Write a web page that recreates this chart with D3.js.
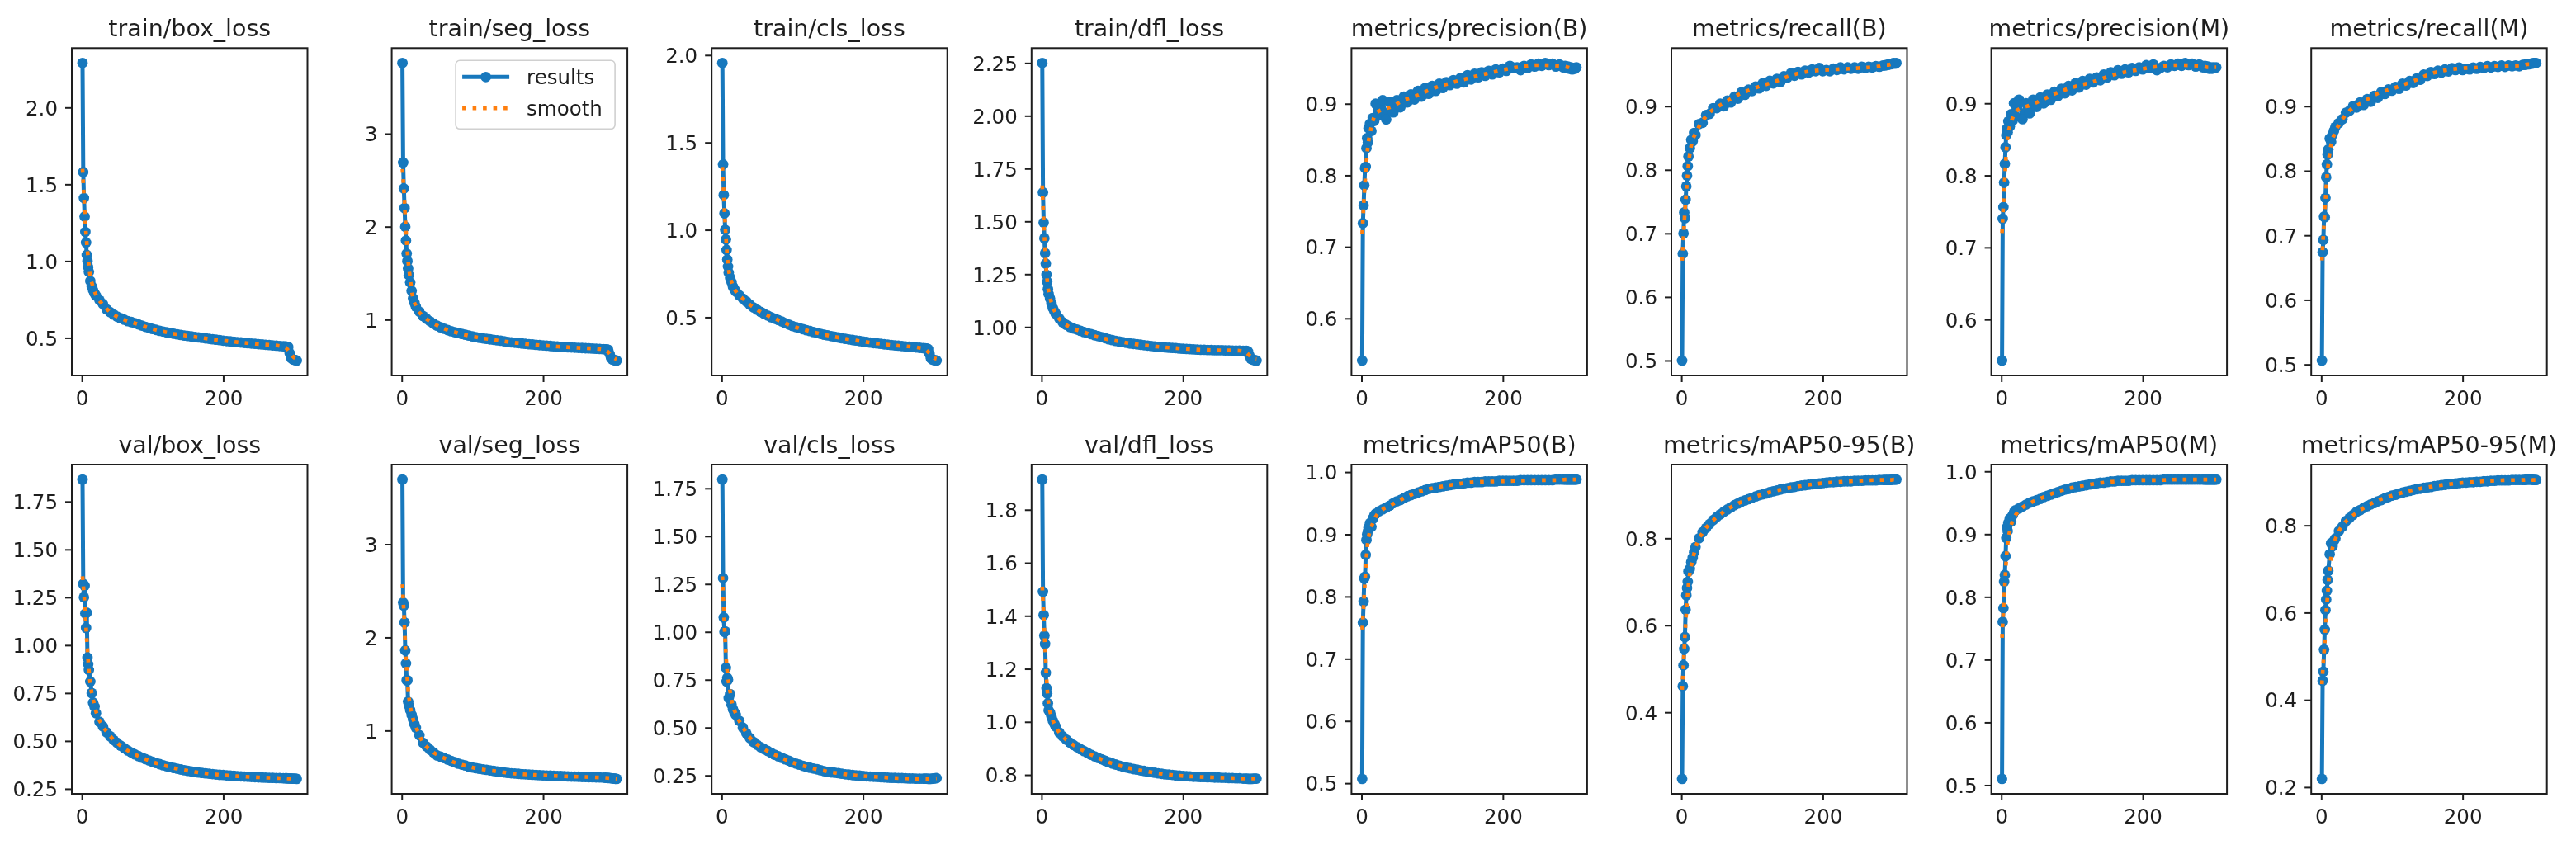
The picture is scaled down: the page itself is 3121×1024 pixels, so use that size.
<!DOCTYPE html>
<html><head><meta charset="utf-8">
<script src="https://cdn.jsdelivr.net/npm/d3@7/dist/d3.min.js"></script>
<style>html,body{margin:0;padding:0;background:#fff}svg{display:block;filter:blur(0.75px)}</style>
</head><body>
<svg id="chart" width="3121" height="1024"></svg>
<script>
// ---------- DATA ----------
const epochs = [1,2,3,4,5,6,7,8,9,10,12,14,16,18,20,25,30,35,40,45,50,55,60,65,70,75,80,85,90,95,100,105,110,115,120,125,130,135,140,145,150,155,160,165,170,175,180,185,190,195,200,205,210,215,220,225,230,235,240,245,250,255,260,265,270,275,280,285,288,290,292,294,296,298,300,302,304];
const smoothEpochs = [1,3,5,7,9,12,15,20,30,40,60,80,100,130,160,190,220,250,280,288,292,296,300,304];

const titles = ["train/box_loss","train/seg_loss","train/cls_loss","train/dfl_loss","metrics/precision(B)","metrics/recall(B)","metrics/precision(M)","metrics/recall(M)",
                "val/box_loss","val/seg_loss","val/cls_loss","val/dfl_loss","metrics/mAP50(B)","metrics/mAP50-95(B)","metrics/mAP50(M)","metrics/mAP50-95(M)"];

const trainBox = [2.29,1.58,1.41,1.29,1.19,1.12,1.04,1.00,0.96,0.93, 0.87,0.835,0.81,0.79,0.775,0.745,0.72,0.686,0.668,0.652, 0.638,0.628,0.618,0.609,0.603,0.596,0.588,0.58,0.572,0.566, 0.558,0.552,0.546,0.541,0.536,0.531,0.527,0.523,0.519,0.515, 0.512,0.509,0.506,0.503,0.5,0.497,0.494,0.491,0.488,0.485, 0.482,0.479,0.477,0.474,0.472,0.47,0.467,0.465,0.463,0.461, 0.459,0.457,0.455,0.453,0.451,0.449,0.447,0.445, 0.444,0.443,0.44,0.40,0.37,0.362,0.358,0.355,0.352];
const trainBoxSmooth = [1.60,1.42,1.25,1.12,1.02,0.90,0.845,0.78,0.715,0.668,0.618,0.588,0.558,0.527,0.506,0.488,0.472,0.459,0.447,0.437,0.418,0.392,0.372,0.362];

const trainSeg = [3.76,2.69,2.41,2.20,2.00,1.85,1.71,1.63,1.55,1.48, 1.40,1.31,1.23,1.18,1.14,1.085,1.04,1.01,0.983,0.957, 0.935,0.918,0.902,0.888,0.876,0.865,0.856,0.847,0.838,0.829, 0.82,0.812,0.805,0.799,0.793,0.788,0.783,0.778,0.773,0.768, 0.76,0.756,0.752,0.748,0.744,0.74,0.736,0.733,0.729,0.726, 0.723,0.72,0.717,0.714,0.711,0.708,0.706,0.703,0.701,0.699, 0.697,0.695,0.693,0.691,0.689,0.687,0.685,0.682, 0.681,0.68,0.676,0.63,0.59,0.572,0.566,0.562,0.56];
const trainSegSmooth = [2.62,2.40,2.10,1.84,1.64,1.44,1.27,1.145,1.04,0.983,0.902,0.856,0.82,0.783,0.752,0.729,0.711,0.697,0.685,0.674,0.652,0.618,0.59,0.575];

const trainCls = [1.955,1.375,1.20,1.095,1.00,0.945,0.885,0.83,0.79,0.755, 0.725,0.70,0.675,0.66,0.647,0.625,0.607,0.59,0.572,0.556, 0.543,0.531,0.52,0.51,0.5,0.492,0.484,0.476,0.466,0.458, 0.45,0.444,0.438,0.432,0.426,0.421,0.415,0.41,0.405,0.40, 0.396,0.392,0.388,0.384,0.38,0.376,0.373,0.37,0.367,0.364, 0.361,0.358,0.355,0.352,0.35,0.348,0.345,0.343,0.341,0.339, 0.337,0.335,0.333,0.331,0.329,0.327,0.325,0.323, 0.322,0.321,0.318,0.29,0.265,0.258,0.255,0.253,0.252];
const trainClsSmooth = [1.36,1.20,1.03,0.90,0.80,0.73,0.69,0.648,0.607,0.572,0.52,0.484,0.45,0.415,0.388,0.367,0.35,0.337,0.325,0.316,0.302,0.283,0.268,0.262];

const trainDfl = [2.25,1.637,1.494,1.42,1.35,1.30,1.247,1.214,1.18,1.156, 1.135,1.11,1.09,1.075,1.063,1.04,1.022,1.01,1.0,0.993, 0.988,0.982,0.976,0.971,0.966,0.961,0.957,0.952,0.947,0.942, 0.938,0.934,0.931,0.928,0.925,0.922,0.92,0.918,0.916,0.914, 0.912,0.91,0.908,0.906,0.905,0.903,0.902,0.901,0.9,0.898, 0.897,0.896,0.895,0.894,0.893,0.892,0.892,0.891,0.891,0.89, 0.89,0.89,0.889,0.889,0.888,0.888,0.888,0.887, 0.887,0.887,0.884,0.865,0.85,0.846,0.844,0.842,0.841];
const trainDflSmooth = [1.67,1.50,1.37,1.26,1.19,1.14,1.105,1.065,1.022,1.0,0.976,0.952,0.938,0.92,0.908,0.9,0.893,0.89,0.888,0.882,0.872,0.86,0.851,0.848];

const precisionB = [0.541,0.733,0.758,0.786,0.81,0.812,0.838,0.852,0.846,0.866, 0.872,0.862,0.88,0.876,0.9,0.884,0.905,0.878,0.902,0.888, 0.905,0.895,0.91,0.902,0.913,0.906,0.918,0.91,0.922,0.914, 0.925,0.918,0.928,0.922,0.93,0.926,0.933,0.928,0.936,0.93, 0.94,0.934,0.942,0.937,0.944,0.939,0.946,0.941,0.948,0.944, 0.949,0.946,0.953,0.95,0.951,0.947,0.953,0.95,0.955,0.952, 0.956,0.953,0.957,0.954,0.956,0.952,0.955,0.951, 0.953,0.95,0.952,0.949,0.951,0.948,0.95,0.949,0.951];
const precisionBSmooth = [0.718,0.758,0.79,0.818,0.84,0.858,0.872,0.886,0.892,0.895,0.905,0.912,0.921,0.93,0.938,0.945,0.951,0.954,0.953,0.952,0.951,0.95,0.95,0.95];

const recallB = [0.50,0.668,0.70,0.733,0.724,0.753,0.774,0.791,0.806,0.821, 0.834,0.847,0.845,0.858,0.855,0.872,0.874,0.886,0.888,0.897, 0.897,0.904,0.9,0.909,0.906,0.915,0.912,0.922,0.918,0.926, 0.924,0.931,0.928,0.936,0.932,0.94,0.936,0.943,0.938,0.947, 0.945,0.952,0.948,0.954,0.95,0.956,0.953,0.958,0.955,0.96, 0.955,0.957,0.955,0.959,0.957,0.961,0.958,0.961,0.959,0.961, 0.959,0.962,0.96,0.962,0.961,0.963,0.962,0.964, 0.964,0.965,0.965,0.966,0.966,0.967,0.968,0.967,0.968];
const recallBSmooth = [0.657,0.695,0.735,0.765,0.795,0.826,0.843,0.857,0.877,0.89,0.905,0.918,0.927,0.938,0.95,0.956,0.958,0.96,0.963,0.965,0.965,0.966,0.967,0.967];

const precisionM = [0.543,0.74,0.756,0.79,0.816,0.839,0.856,0.865,0.86,0.875, 0.868,0.885,0.876,0.9,0.882,0.905,0.878,0.9,0.886,0.905, 0.895,0.908,0.9,0.912,0.905,0.916,0.91,0.92,0.914,0.924, 0.918,0.928,0.922,0.931,0.926,0.934,0.929,0.936,0.932,0.94, 0.936,0.943,0.939,0.946,0.941,0.947,0.943,0.949,0.945,0.95, 0.947,0.953,0.949,0.954,0.946,0.949,0.952,0.95,0.954,0.952, 0.955,0.952,0.956,0.953,0.955,0.951,0.954,0.95, 0.952,0.949,0.951,0.948,0.95,0.948,0.95,0.949,0.95];
const precisionMSmooth = [0.72,0.76,0.797,0.83,0.853,0.868,0.877,0.888,0.894,0.897,0.906,0.915,0.922,0.93,0.94,0.946,0.951,0.953,0.952,0.951,0.95,0.95,0.95,0.95];

const recallM = [0.506,0.674,0.693,0.729,0.728,0.758,0.79,0.81,0.825,0.833, 0.85,0.845,0.856,0.862,0.868,0.874,0.88,0.89,0.893,0.9, 0.898,0.906,0.902,0.911,0.907,0.916,0.913,0.922,0.919,0.926, 0.924,0.93,0.927,0.935,0.932,0.939,0.936,0.943,0.941,0.949, 0.947,0.953,0.95,0.955,0.952,0.957,0.954,0.959,0.956,0.96, 0.956,0.958,0.957,0.96,0.958,0.961,0.959,0.962,0.96,0.962, 0.961,0.963,0.961,0.963,0.962,0.963,0.962,0.964, 0.964,0.965,0.965,0.965,0.966,0.966,0.967,0.967,0.967];
const recallMSmooth = [0.661,0.70,0.737,0.772,0.80,0.828,0.845,0.86,0.88,0.893,0.907,0.92,0.927,0.939,0.952,0.958,0.96,0.962,0.963,0.964,0.965,0.965,0.966,0.966];

const valBox = [1.865,1.32,1.25,1.31,1.165,1.09,1.17,0.935,0.90,0.87, 0.81,0.75,0.70,0.68,0.645,0.60,0.575,0.545,0.525,0.505, 0.49,0.475,0.462,0.45,0.44,0.43,0.421,0.413,0.405,0.398, 0.391,0.385,0.379,0.373,0.368,0.363,0.359,0.355,0.351,0.347, 0.344,0.341,0.338,0.335,0.333,0.331,0.329,0.327,0.325,0.323, 0.322,0.32,0.319,0.318,0.316,0.315,0.314,0.313,0.312,0.311, 0.31,0.309,0.308,0.307,0.307,0.306,0.306,0.305, 0.305,0.305,0.304,0.304,0.304,0.303,0.303,0.303,0.302];
const valBoxSmooth = [1.36,1.27,1.16,1.03,0.92,0.80,0.735,0.655,0.577,0.526,0.462,0.421,0.391,0.359,0.338,0.325,0.316,0.31,0.306,0.305,0.304,0.304,0.303,0.303];

const valSeg = [3.694,2.374,2.34,2.16,1.86,1.72,1.54,1.54,1.31,1.27, 1.22,1.17,1.12,1.07,1.03,0.95,0.87,0.83,0.795,0.765, 0.733,0.72,0.705,0.69,0.675,0.66,0.645,0.635,0.625,0.612, 0.604,0.597,0.59,0.584,0.579,0.573,0.567,0.561,0.556,0.551, 0.546,0.542,0.539,0.536,0.533,0.531,0.528,0.526,0.524,0.521, 0.519,0.518,0.516,0.515,0.513,0.512,0.51,0.508,0.507,0.506, 0.505,0.503,0.502,0.5,0.499,0.498,0.497,0.496, 0.494,0.493,0.492,0.49,0.489,0.487,0.485,0.483,0.482];
const valSegSmooth = [2.57,2.27,1.92,1.66,1.45,1.26,1.155,1.045,0.875,0.795,0.705,0.645,0.604,0.567,0.539,0.524,0.513,0.505,0.497,0.494,0.492,0.489,0.486,0.484];

const valCls = [1.796,1.281,1.075,1.0,1.003,0.812,0.74,0.76,0.75,0.654, 0.675,0.62,0.596,0.58,0.567,0.535,0.5,0.47,0.445,0.425, 0.41,0.398,0.388,0.378,0.368,0.358,0.35,0.342,0.334,0.327, 0.318,0.312,0.306,0.3,0.294,0.29,0.286,0.282,0.277,0.272, 0.269,0.266,0.264,0.262,0.259,0.256,0.254,0.252,0.25,0.249, 0.247,0.245,0.244,0.243,0.242,0.241,0.24,0.238,0.237,0.237, 0.236,0.236,0.235,0.234,0.234,0.233,0.233,0.233, 0.233,0.233,0.232,0.232,0.232,0.233,0.234,0.235,0.236];
const valClsSmooth = [1.29,1.12,0.95,0.83,0.76,0.69,0.625,0.573,0.502,0.447,0.388,0.35,0.318,0.286,0.264,0.25,0.242,0.236,0.233,0.233,0.233,0.233,0.234,0.235];

const valDfl = [1.914,1.491,1.403,1.325,1.294,1.185,1.127,1.107,1.07,1.044, 1.035,1.02,1.005,0.993,0.982,0.96,0.945,0.933,0.922,0.913, 0.905,0.897,0.89,0.883,0.876,0.87,0.864,0.859,0.853,0.848, 0.843,0.839,0.835,0.831,0.828,0.825,0.822,0.82,0.817,0.815, 0.812,0.81,0.808,0.806,0.804,0.802,0.801,0.8,0.798,0.797, 0.796,0.795,0.794,0.793,0.793,0.792,0.792,0.791,0.791,0.79, 0.79,0.789,0.789,0.788,0.788,0.787,0.787,0.786, 0.786,0.786,0.785,0.785,0.785,0.785,0.786,0.786,0.786];
const valDflSmooth = [1.51,1.40,1.28,1.17,1.09,1.04,1.012,0.982,0.945,0.922,0.89,0.864,0.843,0.822,0.808,0.798,0.793,0.79,0.787,0.786,0.786,0.786,0.786,0.786];

const mAP50B = [0.507,0.758,0.792,0.829,0.832,0.867,0.891,0.90,0.905,0.911, 0.918,0.912,0.925,0.93,0.933,0.937,0.94,0.943,0.946,0.95, 0.953,0.955,0.958,0.961,0.963,0.965,0.967,0.969,0.971,0.973, 0.974,0.975,0.976,0.977,0.978,0.979,0.98,0.981,0.981,0.982, 0.983,0.983,0.984,0.984,0.984,0.985,0.985,0.985,0.985,0.986, 0.986,0.986,0.986,0.986,0.986,0.987,0.987,0.987,0.987,0.987, 0.987,0.987,0.987,0.987,0.987,0.988,0.988,0.988, 0.988,0.988,0.988,0.988,0.988,0.988,0.988,0.988,0.988];
const mAP50BSmooth = [0.747,0.785,0.825,0.862,0.888,0.905,0.915,0.928,0.94,0.946,0.958,0.968,0.974,0.98,0.984,0.985,0.986,0.987,0.987,0.988,0.988,0.988,0.988,0.988];

const mAP5095B = [0.247,0.46,0.508,0.546,0.573,0.636,0.669,0.686,0.70,0.724, 0.73,0.745,0.755,0.768,0.78,0.80,0.814,0.824,0.833,0.842, 0.849,0.855,0.861,0.866,0.871,0.876,0.88,0.884,0.887,0.89, 0.893,0.896,0.899,0.901,0.903,0.906,0.908,0.91,0.912,0.914, 0.915,0.917,0.918,0.92,0.921,0.922,0.923,0.924,0.925,0.926, 0.927,0.928,0.929,0.929,0.93,0.93,0.931,0.931,0.931,0.932, 0.932,0.932,0.933,0.933,0.933,0.933,0.934,0.934, 0.934,0.934,0.934,0.934,0.934,0.935,0.935,0.935,0.935];
const mAP5095BSmooth = [0.452,0.51,0.575,0.63,0.675,0.72,0.744,0.778,0.813,0.833,0.861,0.88,0.893,0.908,0.918,0.925,0.929,0.932,0.934,0.934,0.934,0.934,0.935,0.935];

const mAP50M = [0.51,0.76,0.782,0.824,0.835,0.865,0.894,0.911,0.905,0.918, 0.925,0.92,0.93,0.935,0.938,0.941,0.944,0.947,0.95,0.952, 0.954,0.956,0.959,0.961,0.963,0.965,0.967,0.969,0.971,0.972, 0.974,0.975,0.976,0.977,0.978,0.979,0.98,0.981,0.982,0.982, 0.983,0.984,0.984,0.985,0.985,0.985,0.985,0.986,0.986,0.986, 0.986,0.986,0.986,0.986,0.986,0.986,0.987,0.987,0.987,0.987, 0.987,0.987,0.987,0.987,0.987,0.987,0.987,0.987, 0.987,0.987,0.987,0.987,0.987,0.987,0.987,0.987,0.987];
const mAP50MSmooth = [0.735,0.78,0.818,0.858,0.885,0.905,0.918,0.93,0.942,0.949,0.959,0.968,0.974,0.98,0.984,0.986,0.986,0.987,0.987,0.987,0.987,0.987,0.987,0.987];

const mAP5095M = [0.219,0.444,0.465,0.515,0.561,0.606,0.63,0.65,0.675,0.696, 0.734,0.759,0.752,0.765,0.77,0.787,0.797,0.81,0.817,0.824, 0.831,0.835,0.84,0.844,0.848,0.851,0.855,0.858,0.862,0.865, 0.868,0.87,0.873,0.875,0.877,0.879,0.881,0.883,0.884,0.886, 0.887,0.888,0.89,0.891,0.892,0.893,0.894,0.895,0.896,0.897, 0.898,0.898,0.899,0.899,0.9,0.9,0.901,0.901,0.902,0.902, 0.903,0.903,0.903,0.903,0.904,0.904,0.904,0.904, 0.904,0.905,0.905,0.905,0.905,0.905,0.904,0.904,0.904];
const mAP5095MSmooth = [0.436,0.487,0.531,0.594,0.639,0.70,0.74,0.768,0.80,0.816,0.84,0.857,0.868,0.881,0.89,0.896,0.90,0.903,0.904,0.904,0.905,0.905,0.904,0.904];

// tick labels (y per panel, x shared)
const yTickLabels = [
  ["0.5","1.0","1.5","2.0"], ["1","2","3"], ["0.5","1.0","1.5","2.0"], ["1.00","1.25","1.50","1.75","2.00","2.25"],
  ["0.6","0.7","0.8","0.9"], ["0.5","0.6","0.7","0.8","0.9"], ["0.6","0.7","0.8","0.9"], ["0.5","0.6","0.7","0.8","0.9"],
  ["0.25","0.50","0.75","1.00","1.25","1.50","1.75"], ["1","2","3"], ["0.25","0.50","0.75","1.00","1.25","1.50","1.75"], ["0.8","1.0","1.2","1.4","1.6","1.8"],
  ["0.5","0.6","0.7","0.8","0.9","1.0"], ["0.4","0.6","0.8"], ["0.5","0.6","0.7","0.8","0.9","1.0"], ["0.2","0.4","0.6","0.8"]
];
const xTickLabels = ["0","200"];
const legendLabels = ["results","smooth"];

const results = [trainBox,trainSeg,trainCls,trainDfl,precisionB,recallB,precisionM,recallM,valBox,valSeg,valCls,valDfl,mAP50B,mAP5095B,mAP50M,mAP5095M];
const smooths = [trainBoxSmooth,trainSegSmooth,trainClsSmooth,trainDflSmooth,precisionBSmooth,recallBSmooth,precisionMSmooth,recallMSmooth,valBoxSmooth,valSegSmooth,valClsSmooth,valDflSmooth,mAP50BSmooth,mAP5095BSmooth,mAP50MSmooth,mAP5095MSmooth];

// ---------- STYLE / LAYOUT ----------
const BLUE = "#1778bd", ORANGE = "#ff7f0e", INK = "#1e1e1e";
const FONT = "DejaVu Sans";
const colLeft0 = 87, colStep = 387.6, panelW = 285.5;
const rowBox = [{top:58.3,bottom:455},{top:563,bottom:962}];
const LW = 5.0, MR = 6.4;

const svg = d3.select("#chart");
svg.append("rect").attr("width",3121).attr("height",1024).attr("fill","#fff");
const defs = svg.append("defs");

results.forEach((ys,k)=>{
  const col = k % 8, row = Math.floor(k / 8);
  const x0 = colLeft0 + colStep*col, x1 = x0 + panelW;
  const y0 = rowBox[row].top, y1 = rowBox[row].bottom;

  const xe = d3.extent(epochs), xm = (xe[1]-xe[0])*0.05;
  const x = d3.scaleLinear().domain([xe[0]-xm, xe[1]+xm]).range([x0, x1]);
  const ye = d3.extent(ys), ym = (ye[1]-ye[0])*0.05;
  const y = d3.scaleLinear().domain([ye[0]-ym, ye[1]+ym]).range([y1, y0]);

  const g = svg.append("g");
  const cid = "clip"+k;
  defs.append("clipPath").attr("id",cid).append("rect").attr("x",x0).attr("y",y0).attr("width",x1-x0).attr("height",y1-y0);
  const plot = g.append("g").attr("clip-path",`url(#${cid})`);

  const pts = epochs.map((e,i)=>[e, ys[i]]);
  const line = d3.line().x(d=>x(d[0])).y(d=>y(d[1]));
  plot.append("path").attr("d", line(pts)).attr("fill","none").attr("stroke",BLUE).attr("stroke-width",LW).attr("stroke-linejoin","round");
  plot.selectAll("circle").data(pts).enter().append("circle")
    .attr("cx",d=>x(d[0])).attr("cy",d=>y(d[1])).attr("r",MR).attr("fill",BLUE);

  const spts = smoothEpochs.map((e,i)=>[e, smooths[k][i]]);
  const sline = d3.line().curve(d3.curveMonotoneX).x(d=>x(d[0])).y(d=>y(d[1]));
  plot.append("path").attr("d", sline(spts)).attr("fill","none").attr("stroke",ORANGE)
    .attr("stroke-width",4.6).attr("stroke-dasharray","4.6,7.9").attr("stroke-linecap","butt");

  // axes
  const yVals = yTickLabels[k].map(Number);
  const ya = d3.axisLeft(y).tickValues(yVals).tickFormat((v,i)=>yTickLabels[k][i]).tickSize(8).tickPadding(9);
  const yg = g.append("g").attr("transform",`translate(${x0},0)`).call(ya);
  const xa = d3.axisBottom(x).tickValues(xTickLabels.map(Number)).tickFormat((v,i)=>xTickLabels[i]).tickSize(8).tickPadding(11);
  const xg = g.append("g").attr("transform",`translate(0,${y1})`).call(xa);
  [yg,xg].forEach(a=>{
    a.select(".domain").remove();
    a.selectAll(".tick line").attr("stroke",INK).attr("stroke-width",2);
    a.selectAll(".tick text").attr("fill",INK).style("font-family",FONT).style("font-size","24.5px");
  });
  yg.selectAll(".tick text").attr("dy","0.36em");

  g.append("rect").attr("x",x0).attr("y",y0).attr("width",x1-x0).attr("height",y1-y0)
    .attr("fill","none").attr("stroke",INK).attr("stroke-width",2);

  g.append("text").attr("x",(x0+x1)/2).attr("y",y0-14.5).attr("text-anchor","middle")
    .attr("fill",INK).style("font-family",FONT).style("font-size","28.5px").text(titles[k]);

  if (k === 1) {
    const lx = x1 - 15 - 193, ly = y0 + 15;
    const lg = g.append("g");
    lg.append("rect").attr("x",lx).attr("y",ly).attr("width",193).attr("height",83).attr("rx",5)
      .attr("fill","#fff").attr("fill-opacity",0.8).attr("stroke","#d0d0d0").attr("stroke-width",1.6);
    const rowY = [ly+20, ly+58];
    lg.append("line").attr("x1",lx+8).attr("x2",lx+65).attr("y1",rowY[0]).attr("y2",rowY[0]).attr("stroke",BLUE).attr("stroke-width",LW);
    lg.append("circle").attr("cx",lx+36.5).attr("cy",rowY[0]).attr("r",MR).attr("fill",BLUE);
    lg.append("line").attr("x1",lx+8).attr("x2",lx+65).attr("y1",rowY[1]).attr("y2",rowY[1]).attr("stroke",ORANGE).attr("stroke-width",4.6).attr("stroke-dasharray","4.6,7.9");
    legendLabels.forEach((t,i)=>{
      lg.append("text").attr("x",lx+86).attr("y",rowY[i]).attr("dy","0.36em").attr("fill",INK)
        .style("font-family",FONT).style("font-size","24.5px").text(t);
    });
  }
});
</script>
</body></html>
